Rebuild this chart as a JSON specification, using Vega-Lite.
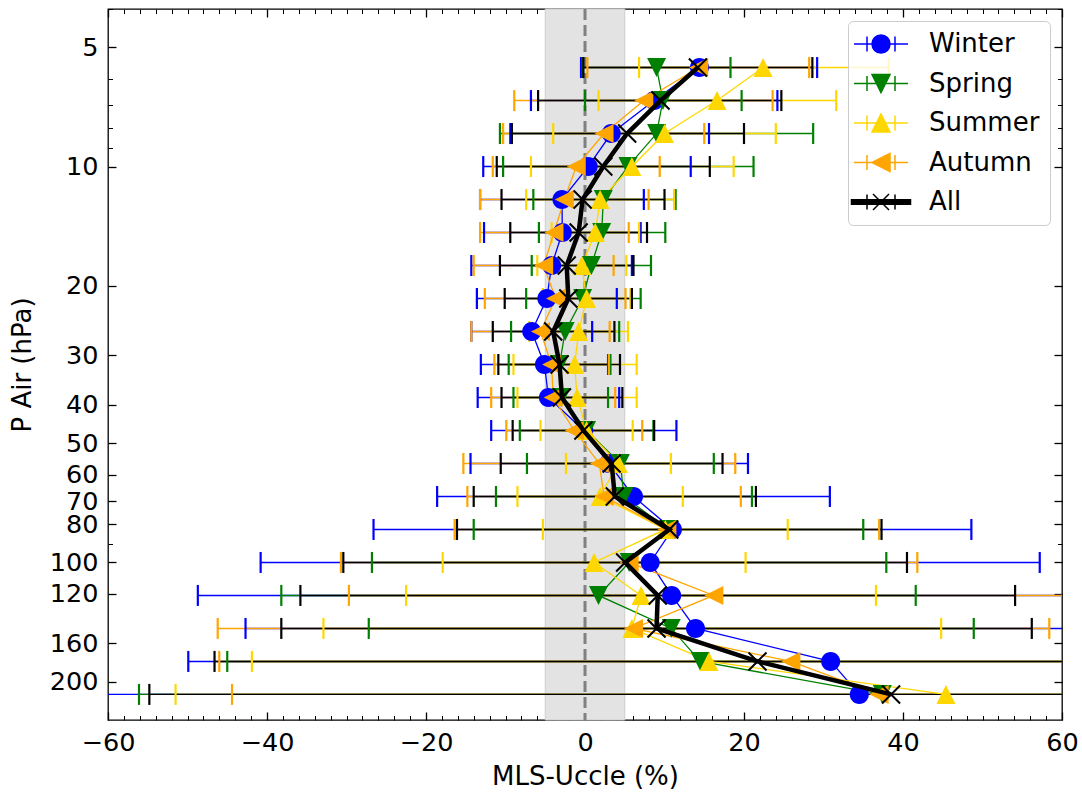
{
  "$schema": "https://vega.github.io/schema/vega-lite/v6.json",
  "width": 954,
  "height": 711,
  "autosize": {"type": "none"},
  "padding": {"left": 108, "top": 9, "right": 20, "bottom": 72},
  "config": {
    "view": {"stroke": "black", "strokeWidth": 1.3},
    "font": "DejaVu Sans",
    "axis": {"grid": false, "domain": false, "labelFont": "DejaVu Sans", "titleFont": "DejaVu Sans", "labelFontSize": 25.5, "titleFontSize": 26, "labelColor": "black", "titleColor": "black", "titleFontWeight": "normal", "tickColor": "black", "tickWidth": 1.3, "labelOverlap": false, "labelFlush": false, "labelBound": false, "zindex": 1}
  },
  "datasets": {
    "band": [{"lo": -5, "hi": 5}],
    "zero": [{"x": 0}],
    "ax": [{"x": 0, "p": 10}],
    "d": [
      {"p": 5.623, "s": "Winter", "m": 14.4, "lo": -0.5, "hi": 29.2},
      {"p": 5.623, "s": "Spring", "m": 9.0, "lo": -0.3, "hi": 18.3},
      {"p": 5.623, "s": "Summer", "m": 22.4, "lo": 6.8, "hi": 38.2},
      {"p": 5.623, "s": "Autumn", "m": 14.3, "lo": 0.3, "hi": 28.2},
      {"p": 5.623, "s": "All", "m": 14.2, "lo": -0.2, "hi": 28.6},
      {"p": 6.813, "s": "Winter", "m": 8.7, "lo": -6.8, "hi": 24.2},
      {"p": 6.813, "s": "Spring", "m": 9.8, "lo": 0.0, "hi": 19.7},
      {"p": 6.813, "s": "Summer", "m": 16.6, "lo": 1.7, "hi": 31.6},
      {"p": 6.813, "s": "Autumn", "m": 7.4, "lo": -8.9, "hi": 23.6},
      {"p": 6.813, "s": "All", "m": 9.5, "lo": -5.9, "hi": 24.7},
      {"p": 8.254, "s": "Winter", "m": 3.3, "lo": -9.4, "hi": 15.6},
      {"p": 8.254, "s": "Spring", "m": 9.0, "lo": -10.7, "hi": 28.7},
      {"p": 8.254, "s": "Summer", "m": 10.0, "lo": -4.0, "hi": 24.0},
      {"p": 8.254, "s": "Autumn", "m": 2.4, "lo": -10.3, "hi": 15.0},
      {"p": 8.254, "s": "All", "m": 5.3, "lo": -9.2, "hi": 20.0},
      {"p": 10, "s": "Winter", "m": 0.4, "lo": -12.8, "hi": 13.3},
      {"p": 10, "s": "Spring", "m": 5.4, "lo": -10.3, "hi": 21.2},
      {"p": 10, "s": "Summer", "m": 5.9, "lo": -6.8, "hi": 18.7},
      {"p": 10, "s": "Autumn", "m": -1.1, "lo": -11.6, "hi": 9.4},
      {"p": 10, "s": "All", "m": 2.3, "lo": -11.1, "hi": 15.7},
      {"p": 12.115, "s": "Winter", "m": -2.9, "lo": -13.2, "hi": 7.4},
      {"p": 12.115, "s": "Spring", "m": 2.3, "lo": -6.5, "hi": 11.4},
      {"p": 12.115, "s": "Summer", "m": 1.9, "lo": -7.4, "hi": 11.2},
      {"p": 12.115, "s": "Autumn", "m": -2.6, "lo": -13.2, "hi": 8.0},
      {"p": 12.115, "s": "All", "m": -0.3, "lo": -10.5, "hi": 10.0},
      {"p": 14.678, "s": "Winter", "m": -2.85, "lo": -12.7, "hi": 7.0},
      {"p": 14.678, "s": "Spring", "m": 2.1, "lo": -5.8, "hi": 10.1},
      {"p": 14.678, "s": "Summer", "m": 1.3, "lo": -4.2, "hi": 6.8},
      {"p": 14.678, "s": "Autumn", "m": -3.9, "lo": -13.2, "hi": 5.5},
      {"p": 14.678, "s": "All", "m": -0.8, "lo": -9.4, "hi": 7.8},
      {"p": 17.783, "s": "Winter", "m": -4.2, "lo": -14.3, "hi": 5.9},
      {"p": 17.783, "s": "Spring", "m": 0.8, "lo": -6.7, "hi": 8.3},
      {"p": 17.783, "s": "Summer", "m": -0.4, "lo": -6.0, "hi": 5.2},
      {"p": 17.783, "s": "Autumn", "m": -5.2, "lo": -14.0, "hi": 3.6},
      {"p": 17.783, "s": "All", "m": -2.3, "lo": -10.7, "hi": 6.1},
      {"p": 21.544, "s": "Winter", "m": -4.8, "lo": -13.6, "hi": 4.0},
      {"p": 21.544, "s": "Spring", "m": -0.3, "lo": -7.4, "hi": 7.0},
      {"p": 21.544, "s": "Summer", "m": 0.2, "lo": -5.3, "hi": 5.7},
      {"p": 21.544, "s": "Autumn", "m": -3.7, "lo": -12.6, "hi": 5.1},
      {"p": 21.544, "s": "All", "m": -2.1, "lo": -10.1, "hi": 5.9},
      {"p": 26.102, "s": "Winter", "m": -6.7, "lo": -14.3, "hi": 0.9},
      {"p": 26.102, "s": "Spring", "m": -2.5, "lo": -9.3, "hi": 4.3},
      {"p": 26.102, "s": "Summer", "m": -0.8, "lo": -7.0, "hi": 5.4},
      {"p": 26.102, "s": "Autumn", "m": -5.6, "lo": -14.3, "hi": 3.1},
      {"p": 26.102, "s": "All", "m": -4.0, "lo": -11.6, "hi": 3.7},
      {"p": 31.623, "s": "Winter", "m": -5.1, "lo": -13.1, "hi": 2.9},
      {"p": 31.623, "s": "Spring", "m": -3.2, "lo": -9.6, "hi": 3.2},
      {"p": 31.623, "s": "Summer", "m": -1.3, "lo": -9.0, "hi": 6.5},
      {"p": 31.623, "s": "Autumn", "m": -4.2, "lo": -11.4, "hi": 3.0},
      {"p": 31.623, "s": "All", "m": -3.2, "lo": -10.9, "hi": 4.4},
      {"p": 38.312, "s": "Winter", "m": -4.6, "lo": -13.5, "hi": 4.3},
      {"p": 38.312, "s": "Spring", "m": -3.0, "lo": -9.0, "hi": 2.9},
      {"p": 38.312, "s": "Summer", "m": -1.0, "lo": -8.5, "hi": 6.5},
      {"p": 38.312, "s": "Autumn", "m": -4.0, "lo": -11.8, "hi": 3.8},
      {"p": 38.312, "s": "All", "m": -2.9, "lo": -10.5, "hi": 4.7},
      {"p": 46.416, "s": "Winter", "m": -0.15, "lo": -11.8, "hi": 11.5},
      {"p": 46.416, "s": "Spring", "m": 0.2, "lo": -8.2, "hi": 8.6},
      {"p": 46.416, "s": "Summer", "m": 0.2, "lo": -5.6, "hi": 6.0},
      {"p": 46.416, "s": "Autumn", "m": -1.35, "lo": -9.9, "hi": 7.2},
      {"p": 46.416, "s": "All", "m": -0.2, "lo": -9.1, "hi": 8.7},
      {"p": 56.234, "s": "Winter", "m": 3.0, "lo": -14.4, "hi": 20.5},
      {"p": 56.234, "s": "Spring", "m": 4.45, "lo": -7.3, "hi": 16.2},
      {"p": 56.234, "s": "Summer", "m": 4.2, "lo": -2.4, "hi": 10.8},
      {"p": 56.234, "s": "Autumn", "m": 1.8, "lo": -15.3, "hi": 18.9},
      {"p": 56.234, "s": "All", "m": 3.35, "lo": -10.6, "hi": 17.3},
      {"p": 68.129, "s": "Winter", "m": 6.1, "lo": -18.6, "hi": 30.8},
      {"p": 68.129, "s": "Spring", "m": 4.9, "lo": -11.2, "hi": 21.0},
      {"p": 68.129, "s": "Summer", "m": 1.9, "lo": -8.5, "hi": 12.3},
      {"p": 68.129, "s": "Autumn", "m": 2.4, "lo": -14.8, "hi": 19.6},
      {"p": 68.129, "s": "All", "m": 3.75, "lo": -14.0, "hi": 21.5},
      {"p": 82.54, "s": "Winter", "m": 11.0, "lo": -26.6, "hi": 48.6},
      {"p": 82.54, "s": "Spring", "m": 10.5, "lo": -14.0, "hi": 35.0},
      {"p": 82.54, "s": "Summer", "m": 10.1, "lo": -5.3, "hi": 25.5},
      {"p": 82.54, "s": "Autumn", "m": 10.3, "lo": -16.4, "hi": 37.0},
      {"p": 82.54, "s": "All", "m": 10.6, "lo": -16.1, "hi": 37.3},
      {"p": 100, "s": "Winter", "m": 8.2, "lo": -40.8, "hi": 57.2},
      {"p": 100, "s": "Spring", "m": 5.55, "lo": -26.8, "hi": 37.9},
      {"p": 100, "s": "Summer", "m": 1.15, "lo": -17.9, "hi": 20.2},
      {"p": 100, "s": "Autumn", "m": 5.55, "lo": -30.7, "hi": 41.8},
      {"p": 100, "s": "All", "m": 5.05, "lo": -30.4, "hi": 40.5},
      {"p": 121.15, "s": "Winter", "m": 10.9, "lo": -48.7, "hi": 70.5},
      {"p": 121.15, "s": "Spring", "m": 1.7, "lo": -38.2, "hi": 41.6},
      {"p": 121.15, "s": "Summer", "m": 7.05, "lo": -22.5, "hi": 36.6},
      {"p": 121.15, "s": "Autumn", "m": 16.2, "lo": -29.7, "hi": 62.1},
      {"p": 121.15, "s": "All", "m": 9.15, "lo": -35.8, "hi": 54.1},
      {"p": 146.78, "s": "Winter", "m": 13.9, "lo": -42.7, "hi": 70.5},
      {"p": 146.78, "s": "Spring", "m": 10.85, "lo": -27.2, "hi": 48.9},
      {"p": 146.78, "s": "Summer", "m": 5.9, "lo": -32.9, "hi": 44.8},
      {"p": 146.78, "s": "Autumn", "m": 6.1, "lo": -46.2, "hi": 58.4},
      {"p": 146.78, "s": "All", "m": 9.0, "lo": -38.2, "hi": 56.2},
      {"p": 177.83, "s": "Winter", "m": 30.9, "lo": -49.9, "hi": 111.7},
      {"p": 177.83, "s": "Spring", "m": 14.5, "lo": -45.0, "hi": 74.0},
      {"p": 177.83, "s": "Summer", "m": 15.6, "lo": -41.9, "hi": 73.1},
      {"p": 177.83, "s": "Autumn", "m": 25.9, "lo": -46.0, "hi": 97.8},
      {"p": 177.83, "s": "All", "m": 21.7, "lo": -46.6, "hi": 90.0},
      {"p": 215.44, "s": "Winter", "m": 34.5, "lo": -70.0, "hi": 139.0},
      {"p": 215.44, "s": "Spring", "m": 37.4, "lo": -56.1, "hi": 130.9},
      {"p": 215.44, "s": "Summer", "m": 45.4, "lo": -51.5, "hi": 142.3},
      {"p": 215.44, "s": "Autumn", "m": 37.0, "lo": -44.4, "hi": 118.4},
      {"p": 215.44, "s": "All", "m": 38.5, "lo": -54.8, "hi": 131.8}
    ]
  },
  "layer": [
    {
      "data": {"name": "band"},
      "mark": {"type": "rect", "color": "#e3e3e3", "stroke": "#cdcdcd", "strokeWidth": 1},
      "encoding": {
        "x": {"field": "lo", "type": "quantitative", "scale": {"domain": [-60, 60], "nice": false, "zero": false}, "axis": null},
        "x2": {"field": "hi"}
      }
    },
    {
      "data": {"name": "zero"},
      "mark": {"type": "rule", "color": "#808080", "strokeWidth": 3, "strokeDash": [11, 5]},
      "encoding": {
        "x": {"field": "x", "type": "quantitative", "axis": null}
      }
    },
    {
      "data": {"name": "d"},
      "mark": {"type": "point", "filled": true, "opacity": 0, "size": 100},
      "encoding": {
        "x": {"field": "m", "type": "quantitative", "axis": null},
        "y": {"field": "p", "type": "quantitative", "scale": {"type": "log", "domain": [4, 250], "reverse": true, "nice": false}, "axis": null},
        "color": {
          "field": "s", "type": "nominal",
          "scale": {"domain": ["Winter", "Spring", "Summer", "Autumn", "All"], "range": ["#0000ff", "#008000", "#ffd700", "#ffa500", "#000000"]},
          "legend": {
            "orient": "top-right", "offset": 12, "title": null,
            "labelFont": "DejaVu Sans", "labelFontSize": 26, "labelColor": "black",
            "symbolSize": 100, "symbolStrokeWidth": 1.5, "symbolOpacity": 1,
            "symbolOffset": 10, "labelOffset": 35,
            "rowPadding": 13.5, "padding": 10,
            "strokeColor": "#cccccc", "fillColor": "rgba(255,255,255,0.8)", "cornerRadius": 5
          }
        },
        "stroke": {
          "field": "s", "type": "nominal",
          "scale": {"domain": ["Winter", "Spring", "Summer", "Autumn", "All"], "range": ["#0000ff", "#008000", "#ffd700", "#ffa500", "#000000"]},
          "legend": {
            "orient": "top-right", "offset": 12, "title": null,
            "labelFont": "DejaVu Sans", "labelFontSize": 26, "labelColor": "black",
            "symbolSize": 100, "symbolStrokeWidth": 1.5, "symbolOpacity": 1,
            "symbolOffset": 10, "labelOffset": 35,
            "rowPadding": 13.5, "padding": 10,
            "strokeColor": "#cccccc", "fillColor": "rgba(255,255,255,0.8)", "cornerRadius": 5
          }
        },
        "shape": {
          "field": "s", "type": "nominal",
          "scale": {"domain": ["Winter", "Spring", "Summer", "Autumn", "All"], "range": [
            "M-5.4,0H5.4M-2.8,-1.5V1.5M2.8,-1.5V1.5M1.8,0A1.8,1.8,0,1,1,-1.8,0A1.8,1.8,0,1,1,1.8,0Z",
            "M-5.4,0H5.4M-2.8,-1.5V1.5M2.8,-1.5V1.5M-1.8,-1.8L1.8,-1.8L0,1.8Z",
            "M-5.4,0H5.4M-2.8,-1.5V1.5M2.8,-1.5V1.5M-1.8,1.8L1.8,1.8L0,-1.8Z",
            "M-5.4,0H5.4M-2.8,-1.5V1.5M2.8,-1.5V1.5M-1.8,0L1.8,-1.8L1.8,1.8Z",
            "M-5.9,-0.45H5.9V0.45H-5.9ZM-2.8,-1.5V1.5M2.8,-1.5V1.5M-1.6,-1.6L1.6,1.6M-1.6,1.6L1.6,-1.6"
          ]},
          "legend": {
            "orient": "top-right", "offset": 12, "title": null,
            "labelFont": "DejaVu Sans", "labelFontSize": 26, "labelColor": "black",
            "symbolSize": 100, "symbolStrokeWidth": 1.5, "symbolOpacity": 1,
            "symbolOffset": 10, "labelOffset": 35,
            "rowPadding": 13.5, "padding": 10,
            "strokeColor": "#cccccc", "fillColor": "rgba(255,255,255,0.8)", "cornerRadius": 5
          }
        }
      }
    },
    {
      "data": {"name": "d"},
      "mark": {"type": "rule", "strokeWidth": 1.4, "clip": true},
      "encoding": {
        "x": {"field": "lo", "type": "quantitative", "axis": null},
        "x2": {"field": "hi"},
        "y": {"field": "p", "type": "quantitative", "axis": null},
        "color": {"field": "s", "type": "nominal"}
      }
    },
    {
      "data": {"name": "d"},
      "transform": [{"fold": ["lo", "hi"], "as": ["k", "v"]}],
      "mark": {"type": "tick", "orient": "vertical", "size": 21, "thickness": 2.2, "opacity": 1, "clip": true},
      "encoding": {
        "x": {"field": "v", "type": "quantitative", "axis": null},
        "y": {"field": "p", "type": "quantitative", "axis": null},
        "color": {"field": "s", "type": "nominal"}
      }
    },
    {
      "data": {"name": "d"},
      "transform": [{"filter": "datum.s !== 'All'"}],
      "mark": {"type": "line", "strokeWidth": 1.3, "clip": true},
      "encoding": {
        "x": {"field": "m", "type": "quantitative", "axis": null},
        "y": {"field": "p", "type": "quantitative", "axis": null},
        "order": {"field": "p", "type": "quantitative"},
        "color": {"field": "s", "type": "nominal"}
      }
    },
    {
      "data": {"name": "d"},
      "transform": [{"filter": "datum.s === 'Winter'"}],
      "mark": {"type": "point", "filled": true, "opacity": 1, "size": 361, "shape": "M1,0A1,1,0,1,1,-1,0A1,1,0,1,1,1,0Z", "color": "#0000ff"},
      "encoding": {
        "x": {"field": "m", "type": "quantitative", "axis": null},
        "y": {"field": "p", "type": "quantitative", "axis": null}
      }
    },
    {
      "data": {"name": "d"},
      "transform": [{"filter": "datum.s === 'Spring'"}],
      "mark": {"type": "point", "filled": true, "opacity": 1, "size": 361, "shape": "M-1,-1L1,-1L0,1Z", "color": "#008000"},
      "encoding": {
        "x": {"field": "m", "type": "quantitative", "axis": null},
        "y": {"field": "p", "type": "quantitative", "axis": null}
      }
    },
    {
      "data": {"name": "d"},
      "transform": [{"filter": "datum.s === 'Summer'"}],
      "mark": {"type": "point", "filled": true, "opacity": 1, "size": 361, "shape": "M-1,1L1,1L0,-1Z", "color": "#ffd700"},
      "encoding": {
        "x": {"field": "m", "type": "quantitative", "axis": null},
        "y": {"field": "p", "type": "quantitative", "axis": null}
      }
    },
    {
      "data": {"name": "d"},
      "transform": [{"filter": "datum.s === 'Autumn'"}],
      "mark": {"type": "point", "filled": true, "opacity": 1, "size": 361, "shape": "M-1,0L1,-1L1,1Z", "color": "#ffa500"},
      "encoding": {
        "x": {"field": "m", "type": "quantitative", "axis": null},
        "y": {"field": "p", "type": "quantitative", "axis": null}
      }
    },
    {
      "data": {"name": "d"},
      "transform": [{"filter": "datum.s === 'All'"}],
      "mark": {"type": "line", "strokeWidth": 4.5, "color": "black", "clip": true},
      "encoding": {
        "x": {"field": "m", "type": "quantitative", "axis": null},
        "y": {"field": "p", "type": "quantitative", "axis": null},
        "order": {"field": "p", "type": "quantitative"}
      }
    },
    {
      "data": {"name": "d"},
      "transform": [{"filter": "datum.s === 'All'"}],
      "mark": {"type": "point", "shape": "M-1,-1L1,1M-1,1L1,-1", "filled": false, "color": "black", "strokeWidth": 2, "size": 324, "opacity": 1},
      "encoding": {
        "x": {"field": "m", "type": "quantitative", "axis": null},
        "y": {"field": "p", "type": "quantitative", "axis": null}
      }
    },
    {
      "data": {"name": "ax"},
      "mark": {"type": "point", "opacity": 0},
      "encoding": {
        "x": {"field": "x", "type": "quantitative", "axis": {"orient": "bottom", "values": [-60, -40, -20, 0, 20, 40, 60], "tickSize": -8, "labelPadding": 18, "title": "MLS-Uccle (%)", "titlePadding": 8}},
        "y": {"field": "p", "type": "quantitative", "axis": {"orient": "left", "values": [5, 10, 20, 30, 40, 50, 60, 70, 80, 100, 120, 160, 200], "format": "d", "tickSize": -8, "labelPadding": 18, "title": "P Air (hPa)", "titlePadding": 14}}
      }
    },
    {
      "data": {"name": "ax"},
      "mark": {"type": "point", "opacity": 0},
      "encoding": {
        "x": {"field": "x", "type": "quantitative", "axis": {"orient": "top", "values": [-60, -40, -20, 0, 20, 40, 60], "tickSize": -8, "labels": false, "title": null}},
        "y": {"field": "p", "type": "quantitative", "axis": {"orient": "right", "values": [5, 10, 20, 30, 40, 50, 60, 70, 80, 100, 120, 160, 200], "tickSize": -8, "labels": false, "title": null}}
      }
    },
    {
      "data": {"name": "ax"},
      "mark": {"type": "point", "opacity": 0},
      "encoding": {
        "x": {"field": "x", "type": "quantitative", "axis": {"orient": "bottom", "values": [-58, -56, -54, -52, -50, -48, -46, -44, -42, -38, -36, -34, -32, -30, -28, -26, -24, -22, -18, -16, -14, -12, -10, -8, -6, -4, -2, 2, 4, 6, 8, 10, 12, 14, 16, 18, 22, 24, 26, 28, 30, 32, 34, 36, 38, 42, 44, 46, 48, 50, 52, 54, 56, 58], "tickSize": -4.5, "tickWidth": 1, "labels": false, "title": null}},
        "y": {"field": "p", "type": "quantitative", "axis": {"orient": "left", "values": [4, 6, 7, 8, 9, 90], "tickSize": -4.5, "tickWidth": 1, "labels": false, "title": null}}
      }
    },
    {
      "data": {"name": "ax"},
      "mark": {"type": "point", "opacity": 0},
      "encoding": {
        "x": {"field": "x", "type": "quantitative", "axis": {"orient": "top", "values": [-58, -56, -54, -52, -50, -48, -46, -44, -42, -38, -36, -34, -32, -30, -28, -26, -24, -22, -18, -16, -14, -12, -10, -8, -6, -4, -2, 2, 4, 6, 8, 10, 12, 14, 16, 18, 22, 24, 26, 28, 30, 32, 34, 36, 38, 42, 44, 46, 48, 50, 52, 54, 56, 58], "tickSize": -4.5, "tickWidth": 1, "labels": false, "title": null}},
        "y": {"field": "p", "type": "quantitative", "axis": {"orient": "right", "values": [4, 6, 7, 8, 9, 90], "tickSize": -4.5, "tickWidth": 1, "labels": false, "title": null}}
      }
    }
  ],
  "resolve": {"axis": {"x": "independent", "y": "independent"}}
}
